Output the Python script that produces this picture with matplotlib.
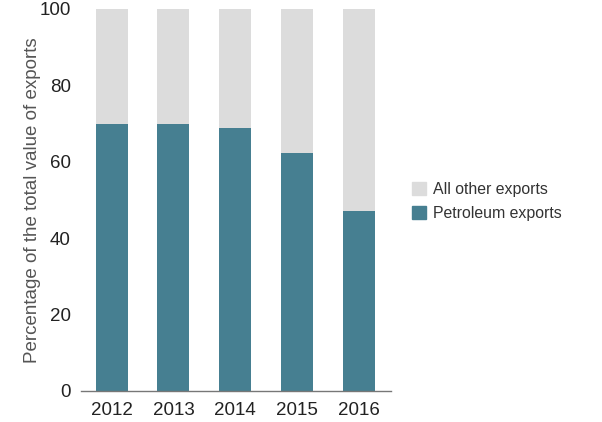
import matplotlib
matplotlib.use("Agg")
import matplotlib.pyplot as plt
from matplotlib.patches import Patch

years = ["2012", "2013", "2014", "2015", "2016"]
petroleum = [69.8, 69.8, 68.8, 62.2, 47.0]
other = [100 - p for p in petroleum]

plt.rcParams['font.family'] = ['Liberation Sans', 'DejaVu Sans']

fig = plt.figure(figsize=(6.02, 4.22), dpi=100)
ax = fig.add_axes([0.134, 0.0735, 0.5155, 0.9052])

teal = "#467f91"
grey = "#dcdcdc"
x = range(len(years))
ax.bar(x, petroleum, width=0.52, color=teal, label="Petroleum exports")
ax.bar(x, other, width=0.52, bottom=petroleum, color=grey, label="All other exports")

ax.set_xlim(-0.5, 4.52)
ax.set_ylim(0, 100)
ax.set_xticks(list(x))
ax.set_xticklabels(years)
ax.set_yticks([0, 20, 40, 60, 80, 100])
for s in ["top", "right", "left"]:
    ax.spines[s].set_visible(False)
ax.spines["bottom"].set_color("#777777")
ax.spines["bottom"].set_linewidth(1.0)
ax.tick_params(axis="y", length=0, pad=7, labelsize=13.5, labelcolor="#222222")
ax.tick_params(axis="x", length=0, pad=8, labelsize=13.5, labelcolor="#222222")
ax.set_ylabel("Percentage of the total value of exports", fontsize=13.5, color="#555555", labelpad=-1)

handles = [Patch(color=grey, label="All other exports"), Patch(color=teal, label="Petroleum exports")]
fig.legend(handles=handles, loc="center left", bbox_to_anchor=(0.66, 0.522), frameon=False,
           fontsize=11.4, handlelength=0.9, handleheight=0.9, handletextpad=0.45, labelspacing=0.55,
           labelcolor="#333333")

fig.savefig("out.png", dpi=100)
